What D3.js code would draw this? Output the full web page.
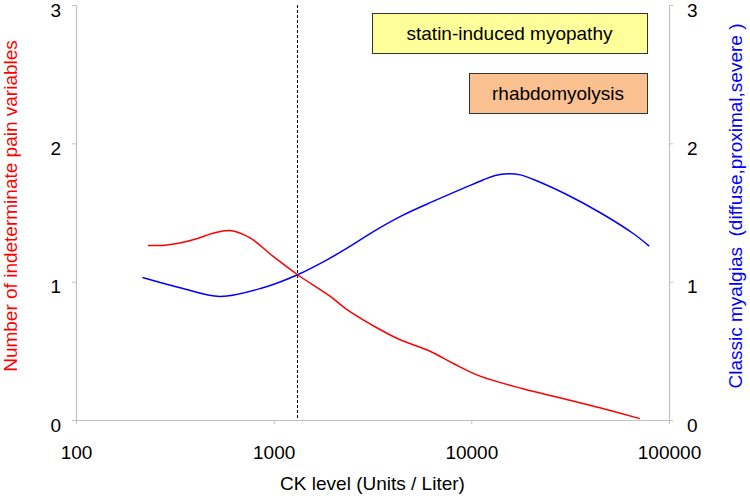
<!DOCTYPE html>
<html>
<head>
<meta charset="utf-8">
<script src="https://cdn.jsdelivr.net/npm/d3@7"></script>
<style>
    html, body { margin: 0; padding: 0; background: #fff; }
    svg { display: block; font-family: "Liberation Sans", Arial, sans-serif; }
</style>
</head>
<body>
<div id="chart"></div>
<script>
'use strict';

// Data: indeterminate pain (left axis, red)
const redCK = [231, 275, 336, 408, 493, 601, 759, 991, 1321, 1927, 2340, 3450, 4360, 6180, 8070, 11070, 18250, 30340, 44700, 71300];
const redVal = [1.262, 1.262, 1.28, 1.31, 1.35, 1.37, 1.317, 1.184, 1.05, 0.895, 0.80, 0.654, 0.58, 0.497, 0.41, 0.317, 0.226, 0.148, 0.088, 0.01];

// Data: classic myalgias (right axis, blue)
const blueCK = [217, 336, 535, 883, 1321, 1927, 2340, 3180, 4360, 6400, 9460, 11450, 13200, 15320, 17700, 20490, 30340, 44700, 65600, 79400];
const blueVal = [1.03, 0.956, 0.893, 0.956, 1.05, 1.17, 1.24, 1.36, 1.47, 1.58, 1.685, 1.735, 1.768, 1.78, 1.772, 1.74, 1.63, 1.50, 1.35, 1.257];

// Ticks / labels
const xTicks = [100, 1000, 10000, 100000];
const yTicks = [0, 1, 2, 3];
const cutoffCK = 1320;
const boxLabels = ['statin-induced myopathy', 'rhabdomyolysis'];

class Chart {

    // Configs
    w = 750;
    h = 499;

    constructor(_ref) {
        this.parent = _ref;
        this.initVis();
    }

    initVis() {
        const vis = this;

        vis.svg = d3.select(`#${vis.parent}`)
            .append('svg')
            .attr('width', vis.w)
            .attr('height', vis.h);

        // Plot area
        vis.m = {top: 5, right: 81, bottom: 79, left: 76};
        vis.gW = vis.w - vis.m.left - vis.m.right;
        vis.gH = vis.h - vis.m.top - vis.m.bottom;

        vis.g = vis.svg.append('g')
            .attr('transform', `translate(${vis.m.left},${vis.m.top})`);

        // Scales
        vis.x = d3.scaleLog().domain([100, 100000]).range([0, vis.gW]);
        vis.yL = d3.scaleLinear().domain([0, 3]).range([vis.gH, 0]);
        vis.yR = d3.scaleLinear().domain([0, 3]).range([vis.gH, 0]);

        vis.fontSize = 19;
        vis.axisColor = '#c0c0c0';

        vis.buildAxes();
        vis.buildLines();
        vis.buildBoxes();
        vis.buildTitles();
    }

    /*
    buildAxes
     */
    buildAxes() {
        const vis = this;

        // Bottom
        vis.xAxisG = vis.g.append('g')
            .attr('transform', `translate(0,${vis.gH})`)
            .call(d3.axisBottom(vis.x).tickValues(xTicks).tickFormat(d3.format('d'))
                .tickSize(4).tickSizeOuter(0));
        vis.xAxisG.selectAll('text')
            .attr('y', 39)
            .attr('dy', 0);

        // Left
        vis.yLAxisG = vis.g.append('g')
            .call(d3.axisLeft(vis.yL).tickValues(yTicks).tickFormat(d3.format('d'))
                .tickSize(4).tickSizeOuter(0).tickPadding(11));
        vis.yLAxisG.selectAll('text').attr('dy', '11px');

        // Right
        vis.yRAxisG = vis.g.append('g')
            .attr('transform', `translate(${vis.gW},0)`)
            .call(d3.axisRight(vis.yR).tickValues(yTicks).tickFormat(d3.format('d'))
                .tickSize(4).tickSizeOuter(0).tickPadding(14));
        vis.yRAxisG.selectAll('text').attr('dy', '11px');

        [vis.xAxisG, vis.yLAxisG, vis.yRAxisG].forEach(a => {
            a.select('.domain').attr('stroke', vis.axisColor).attr('stroke-width', 1.2);
            a.selectAll('.tick line').attr('stroke', vis.axisColor);
            a.selectAll('text')
                .attr('fill', '#000')
                .style('font-size', `${vis.fontSize}px`)
                .style('font-family', '"Liberation Sans", Arial, sans-serif');
        });
    }

    /*
    buildLines
     */
    buildLines() {
        const vis = this;

        // Cutoff
        vis.g.append('line')
            .attr('x1', vis.x(cutoffCK))
            .attr('x2', vis.x(cutoffCK))
            .attr('y1', 0)
            .attr('y2', vis.gH)
            .attr('stroke', '#000')
            .attr('stroke-width', 1)
            .attr('stroke-dasharray', '3,2');

        const redData = redCK.map((d, i) => ({ck: d, v: redVal[i]}));
        const blueData = blueCK.map((d, i) => ({ck: d, v: blueVal[i]}));

        const lineL = d3.line()
            .x(d => vis.x(d.ck))
            .y(d => vis.yL(d.v))
            .curve(d3.curveCatmullRom.alpha(0.5));
        const lineR = d3.line()
            .x(d => vis.x(d.ck))
            .y(d => vis.yR(d.v))
            .curve(d3.curveCatmullRom.alpha(0.5));

        vis.g.append('path')
            .datum(blueData)
            .attr('d', lineR)
            .attr('fill', 'none')
            .attr('stroke', '#0000ff')
            .attr('stroke-width', 1.5);

        vis.g.append('path')
            .datum(redData)
            .attr('d', lineL)
            .attr('fill', 'none')
            .attr('stroke', '#ff0000')
            .attr('stroke-width', 1.5);
    }

    /*
    buildBoxes
     */
    buildBoxes() {
        const vis = this;

        const boxes = [
            {label: boxLabels[0], x: 372, y: 13, w: 275, h: 40, fill: '#ffff99'},
            {label: boxLabels[1], x: 469, y: 73, w: 178, h: 40, fill: '#fac090'}
        ];

        vis.boxG = vis.svg.append('g').attr('class', 'boxG');
        const bg = vis.boxG.selectAll('g')
            .data(boxes)
            .join('g');
        bg.append('rect')
            .attr('x', d => d.x + 0.5)
            .attr('y', d => d.y + 0.5)
            .attr('width', d => d.w)
            .attr('height', d => d.h)
            .attr('fill', d => d.fill)
            .attr('stroke', '#333')
            .attr('stroke-width', 1);
        bg.append('text')
            .attr('x', d => d.x + d.w / 2)
            .attr('y', d => d.y + d.h / 2 + 7)
            .attr('text-anchor', 'middle')
            .style('font-size', `${vis.fontSize}px`)
            .text(d => d.label);
    }

    /*
    buildTitles
     */
    buildTitles() {
        const vis = this;
        const cy = 206;

        vis.svg.append('text')
            .attr('x', vis.m.left + vis.gW / 2)
            .attr('y', 490)
            .attr('text-anchor', 'middle')
            .style('font-size', `${vis.fontSize}px`)
            .text('CK level (Units / Liter)');

        vis.svg.append('text')
            .attr('transform', `translate(17,${cy}) rotate(-90)`)
            .attr('text-anchor', 'middle')
            .attr('fill', '#ff0000')
            .style('font-size', `${vis.fontSize}px`)
            .text('Number of indeterminate pain variables');

        vis.svg.append('text')
            .attr('transform', `translate(742,${cy}) rotate(-90)`)
            .attr('text-anchor', 'middle')
            .attr('fill', '#0000ff')
            .style('font-size', `${vis.fontSize}px`)
            .style('white-space', 'pre')
            .text('Classic myalgias  (diffuse,proximal,severe )');
    }
}

new Chart('chart');
</script>
</body>
</html>
